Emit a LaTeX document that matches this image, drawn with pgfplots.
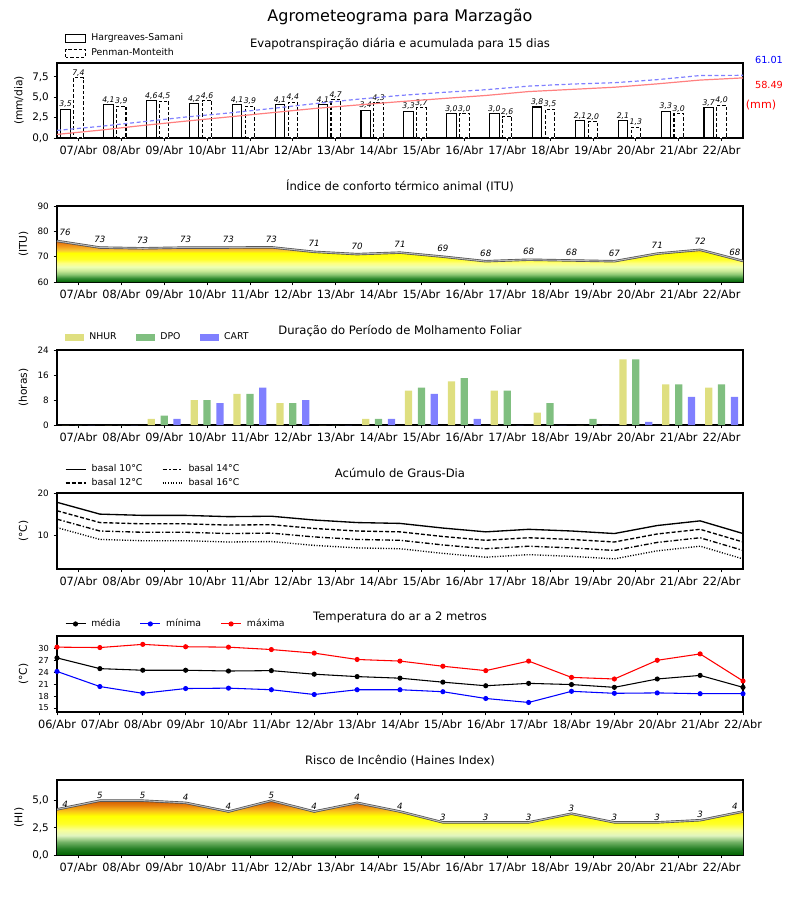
\documentclass[border=0pt]{standalone}
\usepackage{fontspec}
\setmainfont{DejaVu Sans}[ItalicFont={DejaVu Sans Oblique}]
\usepackage{pgfplots}
\pgfplotsset{compat=1.18}

\definecolor{hsred}{RGB}{255,128,128}
\definecolor{pmblue}{RGB}{128,128,255}
\definecolor{nhur}{RGB}{223,223,128}
\definecolor{dpo}{RGB}{128,191,128}
\definecolor{cart}{RGB}{128,128,255}

% ITU shading: path bbox spans 60 .. 76.2
\pgfdeclareverticalshading{itu}{100bp}{rgb(0bp)=(0,0.39,0); rgb(25bp)=(0,0.39,0); rgb(29.63bp)=(0.2,0.55,0.2); rgb(34.26bp)=(0.55,0.78,0.45); rgb(38.89bp)=(0.8,0.92,0.6); rgb(43.52bp)=(0.93,1,0.7); rgb(48.15bp)=(1,1,0.5); rgb(52.78bp)=(1,1,0.15); rgb(60.49bp)=(1,1,0); rgb(63.58bp)=(0.98,0.8,0.2); rgb(68.21bp)=(0.95,0.62,0.12); rgb(74.38bp)=(0.88,0.42,0.05); rgb(75bp)=(0.87,0.4,0.04); rgb(100bp)=(0.87,0.4,0.04)}
% Haines shading: path bbox spans 0 .. 5
\pgfdeclareverticalshading{haines}{100bp}{rgb(0bp)=(0,0.39,0); rgb(25bp)=(0,0.39,0); rgb(31bp)=(0.15,0.5,0.15); rgb(37bp)=(0.45,0.7,0.4); rgb(43bp)=(0.88,0.96,0.75); rgb(48bp)=(0.97,1,0.6); rgb(54bp)=(1,1,0.15); rgb(61bp)=(1,1,0); rgb(66bp)=(0.98,0.75,0.1); rgb(71bp)=(0.9,0.5,0.05); rgb(75bp)=(0.82,0.35,0); rgb(100bp)=(0.82,0.35,0)}

\newcommand{\fs}[1]{\fontsize{#1}{#1}\selectfont}

\pgfplotsset{
  panel/.style={
    scale only axis, width=514.5pt, anchor=south west,
    xmin=-0.5, xmax=15.5,
    tick align=outside, xtick pos=bottom, ytick pos=left,
    major tick length=2.6pt,
    every tick/.style={black, line width=0.6pt},
    axis line style={black, line width=0.8pt},
    xticklabel style={font=\fs{8.5pt}},
    yticklabel style={font=\fs{7.8pt}},
    /pgf/number format/assume math mode=true,
    title style={font=\fs{8.7pt}, at={(0.5,1)}, anchor=base, yshift=6pt},
    ylabel style={font=\fs{8pt}, anchor=center},
    legend style={draw=none, fill=none, font=\fs{7pt}, inner sep=0pt, outer sep=0pt,
      nodes={inner sep=1.5pt}, at={(0,1)}, anchor=south west, xshift=6pt,
      /tikz/every odd column/.append style={column sep=2.5pt},
      /tikz/every even column/.append style={column sep=13pt}},
    legend cell align=left,
    legend image code/.code={\draw[mark repeat=2,mark phase=2,##1] plot coordinates {(0pt,0pt) (7.5pt,0pt) (15pt,0pt)};},
    clip mode=individual,
  },
  days/.style={xtick={0,1,2,3,4,5,6,7,8,9,10,11,12,13,14,15},
    xticklabels={07/Abr,08/Abr,09/Abr,10/Abr,11/Abr,12/Abr,13/Abr,14/Abr,15/Abr,16/Abr,17/Abr,18/Abr,19/Abr,20/Abr,21/Abr,22/Abr}},
  commaticks/.style={yticklabel style={/pgf/number format/use comma,/pgf/number format/fixed,/pgf/number format/fixed zerofill,/pgf/number format/precision=1}},
}

\pgfplotstableread{
x y
-0.5 76.2
0.5 73.6
1.5 73.3
2.5 73.6
3.5 73.6
4.5 73.7
5.5 71.9
6.5 71.0
7.5 71.6
8.5 70.0
9.5 68.2
10.5 68.8
11.5 68.5
12.5 68.2
13.5 71.2
14.5 72.7
15.5 68.3
}\itudata

\pgfplotstableread{
x y
-0.5 4.2
0.5 5.0
1.5 5.0
2.5 4.8
3.5 4.0
4.5 5.0
5.5 4.0
6.5 4.8
7.5 4.0
8.5 3.0
9.5 3.0
10.5 3.0
11.5 3.8
12.5 3.0
13.5 3.0
14.5 3.2
15.5 4.0
}\hidata

\begin{document}
\begin{tikzpicture}
\path[use as bounding box] (0pt,0pt) rectangle (600pt,-675pt);
\node[font=\fs{12pt}] at (300pt,-12.75pt) {Agrometeograma para Marzagão};

% ---------------- Panel 1: Evapotranspiracao
\begin{axis}[panel, days, commaticks, at={(42.75pt,-103.5pt)}, height=56.25pt,
  ymin=0, ymax=9.2, ytick={0,2.5,5,7.5},
  ylabel={(mm/dia)}, ylabel style={at={(-0.0554,0.5)}},
  title={Evapotranspiração diária e acumulada para 15 dias},
  legend style={yshift=2.5pt, row sep=1.25pt},
  bar width=0.22]
\addplot[ybar, bar shift=0, fill=white, draw=black, line width=0.8pt,
  legend image code/.code={\draw[black, fill=white, line width=0.8pt] (0pt,-3pt) rectangle (15pt,3pt);},
  nodes near coords, point meta=explicit symbolic,
  every node near coord/.append style={font=\fs{5.8pt}\itshape, inner sep=0.8pt, anchor=south}]
  table[meta=lab] {
x y lab
-0.3 3.5 3,5
0.7 4.1 4,1
1.7 4.6 4,6
2.7 4.2 4,2
3.7 4.1 4,1
4.7 4.1 4,1
5.7 4.1 4,1
6.7 3.4 3,4
7.7 3.3 3,3
8.7 3.0 3,0
9.7 3.0 3,0
10.7 3.8 3,8
11.7 2.1 2,1
12.7 2.1 2,1
13.7 3.3 3,3
14.7 3.7 3,7
};
\addplot[ybar, bar shift=0, fill=white, draw=black, line width=0.8pt, dash pattern=on 2.5pt off 1.5pt,
  legend image code/.code={\draw[black, fill=white, line width=0.8pt, dash pattern=on 2.5pt off 1.5pt] (0pt,-3pt) rectangle (15pt,3pt);},
  nodes near coords, point meta=explicit symbolic,
  every node near coord/.append style={font=\fs{5.8pt}\itshape, inner sep=0.8pt, anchor=south, solid}]
  table[meta=lab] {
x y lab
0 7.4 7,4
1 3.9 3,9
2 4.5 4,5
3 4.6 4,6
4 3.9 3,9
5 4.4 4,4
6 4.7 4,7
7 4.3 4,3
8 3.7 3,7
9 3.0 3,0
10 2.6 2,6
11 3.5 3,5
12 2.0 2,0
13 1.3 1,3
14 3.0 3,0
15 4.0 4,0
};
\legend{Hargreaves-Samani,Penman-Monteith}
\end{axis}
\begin{axis}[scale only axis, width=514.5pt, height=56.25pt, anchor=south west,
  at={(42.75pt,-103.5pt)}, xmin=-0.5, xmax=15.5, ymin=0, ymax=73, hide axis]
\addplot[hsred, line width=0.9pt] table {
x y
-0.5 3.5
0.5 7.6
1.5 12.2
2.5 16.4
3.5 20.5
4.5 24.6
5.5 28.7
6.5 32.1
7.5 35.4
8.5 38.4
9.5 41.4
10.5 45.2
11.5 47.3
12.5 49.4
13.5 52.7
14.5 56.4
15.5 58.49
};
\addplot[pmblue, line width=0.9pt, dash pattern=on 3pt off 2pt] table {
x y
-0.5 7.4
0.5 11.3
1.5 15.8
2.5 20.4
3.5 24.3
4.5 28.7
5.5 33.4
6.5 37.7
7.5 41.4
8.5 44.4
9.5 47.0
10.5 50.5
11.5 52.5
12.5 53.8
13.5 56.8
14.5 60.8
15.5 61.01
};
\end{axis}
\node[font=\fs{7.3pt}, text=blue] at (576.75pt,-45pt) {61.01};
\node[font=\fs{7.3pt}, text=red] at (576.75pt,-63.75pt) {58.49};
\node[font=\fs{8.3pt}, text=red] at (570.75pt,-79pt) {(mm)};

% ---------------- Panel 2: ITU
\begin{axis}[panel, days, at={(42.75pt,-211.5pt)}, height=57pt,
  ymin=60, ymax=90, ytick={60,70,80,90}, yticklabel style={font=\fs{6.6pt}},
  ylabel={(ITU)}, ylabel style={at={(-0.0488,0.5)}},
  title={Índice de conforto térmico animal (ITU)}]
\addplot[shade, shading=itu, draw=none] table {
x y
-0.5 76.2
0.5 73.6
1.5 73.3
2.5 73.6
3.5 73.6
4.5 73.7
5.5 71.9
6.5 71.0
7.5 71.6
8.5 70.0
9.5 68.2
10.5 68.8
11.5 68.5
12.5 68.2
13.5 71.2
14.5 72.7
15.5 68.3
15.5 60
-0.5 60
};
\addplot[black!70, line width=1.8pt] table {\itudata};
\addplot[gray!55, line width=0.8pt] table {\itudata};
\addplot[draw=none, nodes near coords, point meta=explicit symbolic,
  every node near coord/.append style={font=\fs{6.5pt}\itshape, anchor=south, inner sep=0pt, yshift=3.5pt}]
  table[meta=lab] {
x y lab
-0.31 76.2 76
0.5 73.6 73
1.5 73.3 73
2.5 73.6 73
3.5 73.6 73
4.5 73.7 73
5.5 71.9 71
6.5 71.0 70
7.5 71.6 71
8.5 70.0 69
9.5 68.2 68
10.5 68.8 68
11.5 68.5 68
12.5 68.2 67
13.5 71.2 71
14.5 72.7 72
15.31 68.3 68
};
\end{axis}

% ---------------- Panel 3: Molhamento foliar
\begin{axis}[panel, days, at={(42.75pt,-318.75pt)}, height=56.25pt,
  ymin=0, ymax=24, ytick={0,8,16,24}, yticklabel style={font=\fs{6.6pt}},
  ylabel={(horas)}, ylabel style={at={(-0.0488,0.5)}},
  title={Duração do Período de Molhamento Foliar},
  legend columns=3, legend style={yshift=4.75pt},
  bar width=0.17]
\addplot[ybar, bar shift=-0.3, fill=nhur, draw=none,
  legend image code/.code={\fill[nhur] (0pt,-2.6pt) rectangle (14.25pt,2.6pt);}] table {
x y
0 0
1 0
2 2
3 8
4 10
5 7
6 0
7 2
8 11
9 14
10 11
11 4
12 0
13 21
14 13
15 12
};
\addplot[ybar, bar shift=0, fill=dpo, draw=none,
  legend image code/.code={\fill[dpo] (0pt,-2.6pt) rectangle (14.25pt,2.6pt);}] table {
x y
0 0
1 0
2 3
3 8
4 10
5 7
6 0
7 2
8 12
9 15
10 11
11 7
12 2
13 21
14 13
15 13
};
\addplot[ybar, bar shift=0.3, fill=cart, draw=none,
  legend image code/.code={\fill[cart] (0pt,-2.6pt) rectangle (14.25pt,2.6pt);}] table {
x y
0 0
1 0
2 2
3 7
4 12
5 8
6 0
7 2
8 10
9 2
10 0
11 0
12 0
13 1
14 9
15 9
};
\legend{NHUR,DPO,CART}
\end{axis}

% ---------------- Panel 4: Graus-dia
\begin{axis}[panel, days, at={(42.75pt,-426.75pt)}, height=57pt,
  ymin=2, ymax=20, ytick={10,20}, yticklabel style={font=\fs{6.6pt}},
  ylabel={(°C)}, ylabel style={at={(-0.0488,0.5)}},
  title={Acúmulo de Graus-Dia},
  legend columns=2, legend style={yshift=2.5pt, row sep=0.5pt}]
\addplot[black, line width=1pt] table {
x y
-0.5 17.8
0.5 15.0
1.5 14.7
2.5 14.7
3.5 14.4
4.5 14.5
5.5 13.6
6.5 13.0
7.5 12.8
8.5 11.7
9.5 10.8
10.5 11.4
11.5 11.0
12.5 10.4
13.5 12.3
14.5 13.4
15.5 10.4
};
\addplot[black, line width=1pt, dash pattern=on 3.5pt off 1.5pt on 1pt off 1.5pt] table {
x y
-0.5 13.8
0.5 11.0
1.5 10.7
2.5 10.7
3.5 10.4
4.5 10.5
5.5 9.6
6.5 9.0
7.5 8.8
8.5 7.7
9.5 6.8
10.5 7.4
11.5 7.0
12.5 6.4
13.5 8.3
14.5 9.4
15.5 6.4
};
\addplot[black, line width=1pt, dash pattern=on 3pt off 1.5pt] table {
x y
-0.5 15.8
0.5 13.0
1.5 12.7
2.5 12.7
3.5 12.4
4.5 12.5
5.5 11.6
6.5 11.0
7.5 10.8
8.5 9.7
9.5 8.8
10.5 9.4
11.5 9.0
12.5 8.4
13.5 10.3
14.5 11.4
15.5 8.4
};
\addplot[black, line width=1pt, dash pattern=on 0.8pt off 1.2pt] table {
x y
-0.5 11.8
0.5 9.0
1.5 8.7
2.5 8.7
3.5 8.4
4.5 8.5
5.5 7.6
6.5 7.0
7.5 6.8
8.5 5.7
9.5 4.8
10.5 5.4
11.5 5.0
12.5 4.4
13.5 6.3
14.5 7.4
15.5 4.4
};
\legend{basal 10°C,basal 14°C,basal 12°C,basal 16°C}
\end{axis}

% ---------------- Panel 5: Temperatura
\begin{axis}[panel, at={(42.75pt,-534pt)}, height=57pt,
  xtick={-0.5,0.5,1.5,2.5,3.5,4.5,5.5,6.5,7.5,8.5,9.5,10.5,11.5,12.5,13.5,14.5,15.5},
  xticklabels={06/Abr,07/Abr,08/Abr,09/Abr,10/Abr,11/Abr,12/Abr,13/Abr,14/Abr,15/Abr,16/Abr,17/Abr,18/Abr,19/Abr,20/Abr,21/Abr,22/Abr},
  ymin=14, ymax=33.1, ytick={15,18,21,24,27,30}, yticklabel style={font=\fs{6.2pt}},
  ylabel={(°C)}, ylabel style={at={(-0.0488,0.5)}},
  title={Temperatura do ar a 2 metros},
  legend columns=3, legend style={yshift=4pt}]
\addplot[black, line width=0.8pt, mark=*, mark size=1.5pt] table {
x y
-0.5 27.6
0.5 24.9
1.5 24.5
2.5 24.5
3.5 24.3
4.5 24.4
5.5 23.5
6.5 22.9
7.5 22.5
8.5 21.5
9.5 20.6
10.5 21.2
11.5 20.9
12.5 20.2
13.5 22.3
14.5 23.2
15.5 20.2
};
\addplot[blue, line width=0.8pt, mark=*, mark size=1.5pt] table {
x y
-0.5 24.2
0.5 20.4
1.5 18.7
2.5 19.9
3.5 20.0
4.5 19.6
5.5 18.4
6.5 19.6
7.5 19.6
8.5 19.1
9.5 17.4
10.5 16.4
11.5 19.2
12.5 18.7
13.5 18.8
14.5 18.6
15.5 18.6
};
\addplot[red, line width=0.8pt, mark=*, mark size=1.5pt] table {
x y
-0.5 30.3
0.5 30.2
1.5 31.0
2.5 30.4
3.5 30.3
4.5 29.7
5.5 28.8
6.5 27.2
7.5 26.8
8.5 25.5
9.5 24.4
10.5 26.8
11.5 22.7
12.5 22.3
13.5 27.0
14.5 28.6
15.5 21.8
};
\legend{média,mínima,máxima}
\end{axis}

% ---------------- Panel 6: Haines
\begin{axis}[panel, days, commaticks, at={(42.75pt,-641.25pt)}, height=56.25pt,
  ymin=0, ymax=6.9, ytick={0,2.5,5},
  ylabel={(HI)}, ylabel style={at={(-0.0554,0.5)}},
  title={Risco de Incêndio (Haines Index)}]
\addplot[shade, shading=haines, draw=none] table {
x y
-0.5 4.2
0.5 5.0
1.5 5.0
2.5 4.8
3.5 4.0
4.5 5.0
5.5 4.0
6.5 4.8
7.5 4.0
8.5 3.0
9.5 3.0
10.5 3.0
11.5 3.8
12.5 3.0
13.5 3.0
14.5 3.2
15.5 4.0
15.5 0
-0.5 0
};
\addplot[black!70, line width=1.8pt] table {\hidata};
\addplot[gray!55, line width=0.8pt] table {\hidata};
\addplot[draw=none, nodes near coords, point meta=explicit symbolic,
  every node near coord/.append style={font=\fs{6.5pt}\itshape, anchor=south, inner sep=0pt, yshift=1.5pt}]
  table[meta=lab] {
x y lab
-0.31 4.2 4
0.5 5.0 5
1.5 5.0 5
2.5 4.8 4
3.5 4.0 4
4.5 5.0 5
5.5 4.0 4
6.5 4.8 4
7.5 4.0 4
8.5 3.0 3
9.5 3.0 3
10.5 3.0 3
11.5 3.8 3
12.5 3.0 3
13.5 3.0 3
14.5 3.2 3
15.31 4.0 4
};
\end{axis}
\end{tikzpicture}
\end{document}
